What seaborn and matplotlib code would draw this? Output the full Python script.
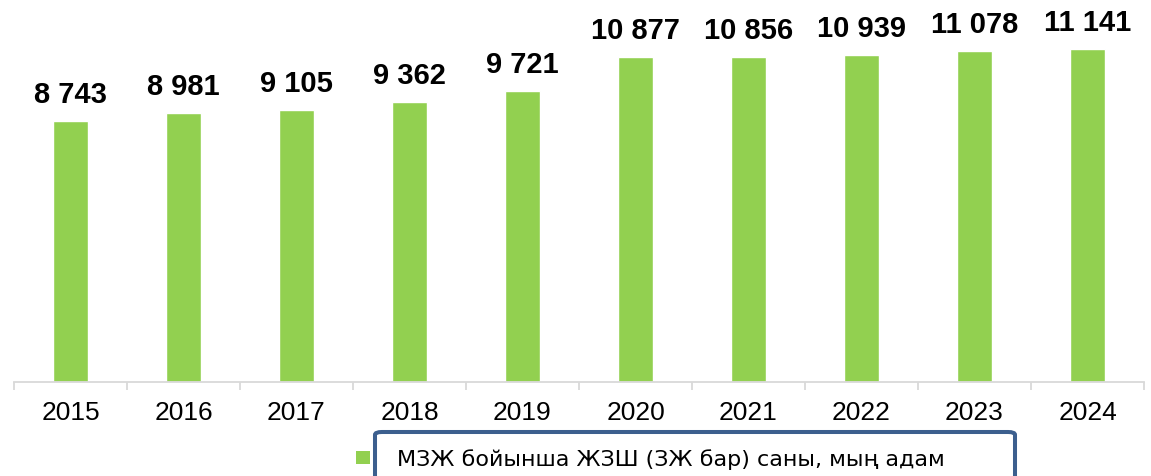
import matplotlib
matplotlib.use("Agg")
import matplotlib.pyplot as plt
import seaborn as sns
import pandas as pd
from matplotlib.patches import FancyBboxPatch, Rectangle

years = ["2015", "2016", "2017", "2018", "2019", "2020", "2021", "2022", "2023", "2024"]
values = [8743, 8981, 9105, 9362, 9721, 10877, 10856, 10939, 11078, 11141]
legend_label = "МЗЖ бойынша ЖЗШ (ЗЖ бар) саны, мың адам"

W, H = 1151, 476
BAR_COLOR = "#92D050"
AXIS_COLOR = "#D9D9D9"
BOX_COLOR = "#3C5F8E"

sns.set_style("white")
plt.rcParams["font.family"] = ["Liberation Sans", "DejaVu Sans"]
plt.rcParams["text.color"] = "black"
plt.rcParams["xtick.color"] = "black"

df = pd.DataFrame({"year": years, "value": values})

fig = plt.figure(figsize=(W / 100, H / 100), dpi=100)
ax = fig.add_axes([14 / W, (H - 382) / H, 1130 / W, 382 / H])

sns.barplot(data=df, x="year", y="value", color=BAR_COLOR, width=0.315,
            saturation=1, ax=ax)

ax.set_ylim(0, 12776)
ax.set_xlim(-0.5, len(years) - 0.5)
ax.set_xlabel("")
ax.set_ylabel("")
ax.set_yticks([])

for spine in ["top", "right", "left"]:
    ax.spines[spine].set_visible(False)
ax.spines["bottom"].set_color(AXIS_COLOR)
ax.spines["bottom"].set_linewidth(1.3)

# category boundary ticks, labels at the centres
ax.set_xticks([i - 0.5 for i in range(len(years) + 1)])
ax.set_xticklabels([])
ax.set_xticks(range(len(years)), minor=True)
ax.set_xticklabels(years, minor=True, fontsize=19, color="black")
ax.tick_params(axis="x", which="major", bottom=True, length=6, width=1.3,
               color=AXIS_COLOR, direction="out")
ax.tick_params(axis="x", which="minor", bottom=True, length=0, pad=14)

for i, v in enumerate(values):
    label = f"{v:,}".replace(",", " ")
    ax.annotate(label, (i, v), xytext=(0, 13), textcoords="offset points",
                ha="center", va="baseline", fontsize=21, fontweight="bold",
                color="black", annotation_clip=False)

# legend-like box at the bottom
box = FancyBboxPatch((375 / W, -20 / H), (1015 - 375) / W, (476 - 432 + 20) / H,
                     boxstyle="round,pad=0,rounding_size=0.006",
                     transform=fig.transFigure, facecolor="white",
                     edgecolor=BOX_COLOR, linewidth=2.9, clip_on=False)
fig.patches.append(box)
fig.patches.append(Rectangle((356 / W, (H - 464) / H), 14 / W, 13 / H,
                             transform=fig.transFigure, facecolor=BAR_COLOR,
                             edgecolor="none"))
fig.text(397 / W, (H - 466) / H, legend_label, fontsize=16, va="baseline", ha="left",
         color="black", family=["Liberation Sans Narrow", "DejaVu Sans"])

fig.savefig("out.png", dpi=100)
